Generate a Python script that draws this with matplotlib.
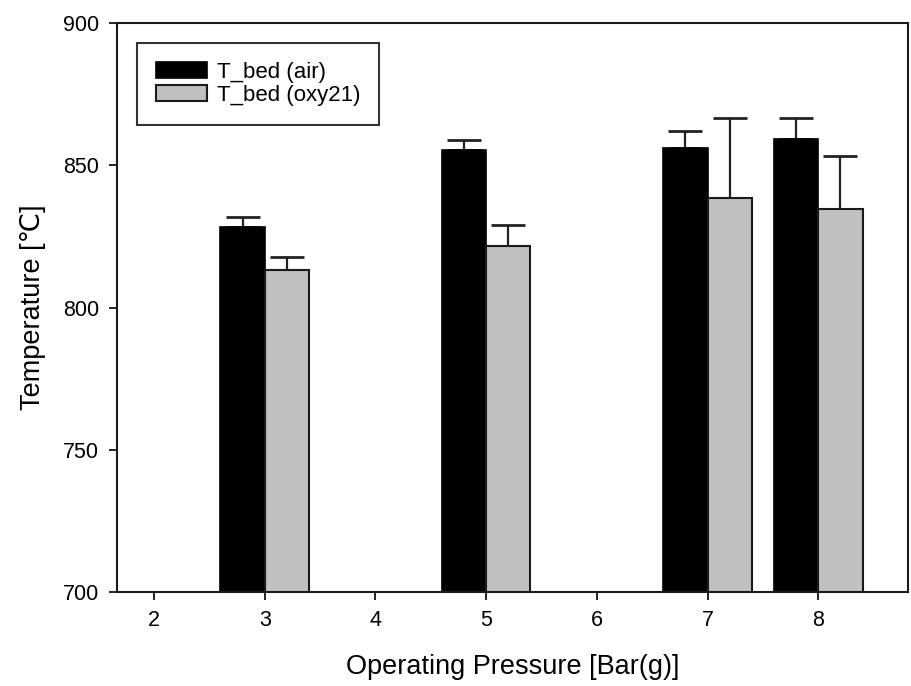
import matplotlib
matplotlib.use("Agg")
import matplotlib.pyplot as plt
import numpy as np

plt.rcParams['font.family'] = ['Liberation Sans', 'DejaVu Sans']

pressures = [3, 5, 7, 8]
t_air = [828.4, 855.3, 855.9, 859.1]
t_air_err = [3.3, 3.5, 6.2, 7.5]
t_oxy = [813.2, 821.7, 838.3, 834.6]
t_oxy_err = [4.5, 7.3, 28.3, 18.6]
xticks = [2, 3, 4, 5, 6, 7, 8]

fig = plt.figure(figsize=(9.11, 6.86), dpi=100)
ax = fig.add_axes([117.3/911, 1-592.3/686, (908.3-117.3)/911, (592.3-22.7)/686])

w = 0.4
x = np.array(pressures, dtype=float)
ax.bar(x - w/2, t_air, width=w, color='black', edgecolor='black', linewidth=1.2,
       label='T_bed (air)', zorder=2)
ax.bar(x + w/2, t_oxy, width=w, color='#c0c0c0', edgecolor='#1a1a1a', linewidth=1.5,
       label='T_bed (oxy21)', zorder=2)
ax.errorbar(x - w/2, t_air, yerr=[np.zeros(len(t_air)), t_air_err], fmt='none',
            ecolor='#222222', elinewidth=1.6, capsize=12, capthick=2.0, zorder=1)
ax.errorbar(x + w/2, t_oxy, yerr=[np.zeros(len(t_oxy)), t_oxy_err], fmt='none',
            ecolor='#222222', elinewidth=1.6, capsize=12, capthick=2.0, zorder=1)

ax.set_xlim(1.668, 8.813)
ax.set_ylim(700, 900)
ax.set_xticks(xticks)
ax.set_yticks([700, 750, 800, 850, 900])
ax.tick_params(direction='out', length=6, width=1.2, labelsize=15.5, pad=7)
for s in ax.spines.values():
    s.set_linewidth(1.5)
    s.set_color('#1a1a1a')

ax.set_xlabel('Operating Pressure [Bar(g)]', fontsize=19.5, labelpad=16)
ax.set_ylabel('Temperature [℃]', fontsize=19.5, labelpad=12)

leg = ax.legend(loc='upper left', bbox_to_anchor=(0.0245, 0.964), borderaxespad=0,
                fontsize=16, frameon=True, fancybox=False, edgecolor='black',
                handlelength=2.3, handleheight=0.75, labelspacing=0.08,
                handletextpad=0.45, borderpad=0.85)
leg.get_frame().set_linewidth(1.5)

fig.savefig('out.png', dpi=100)
